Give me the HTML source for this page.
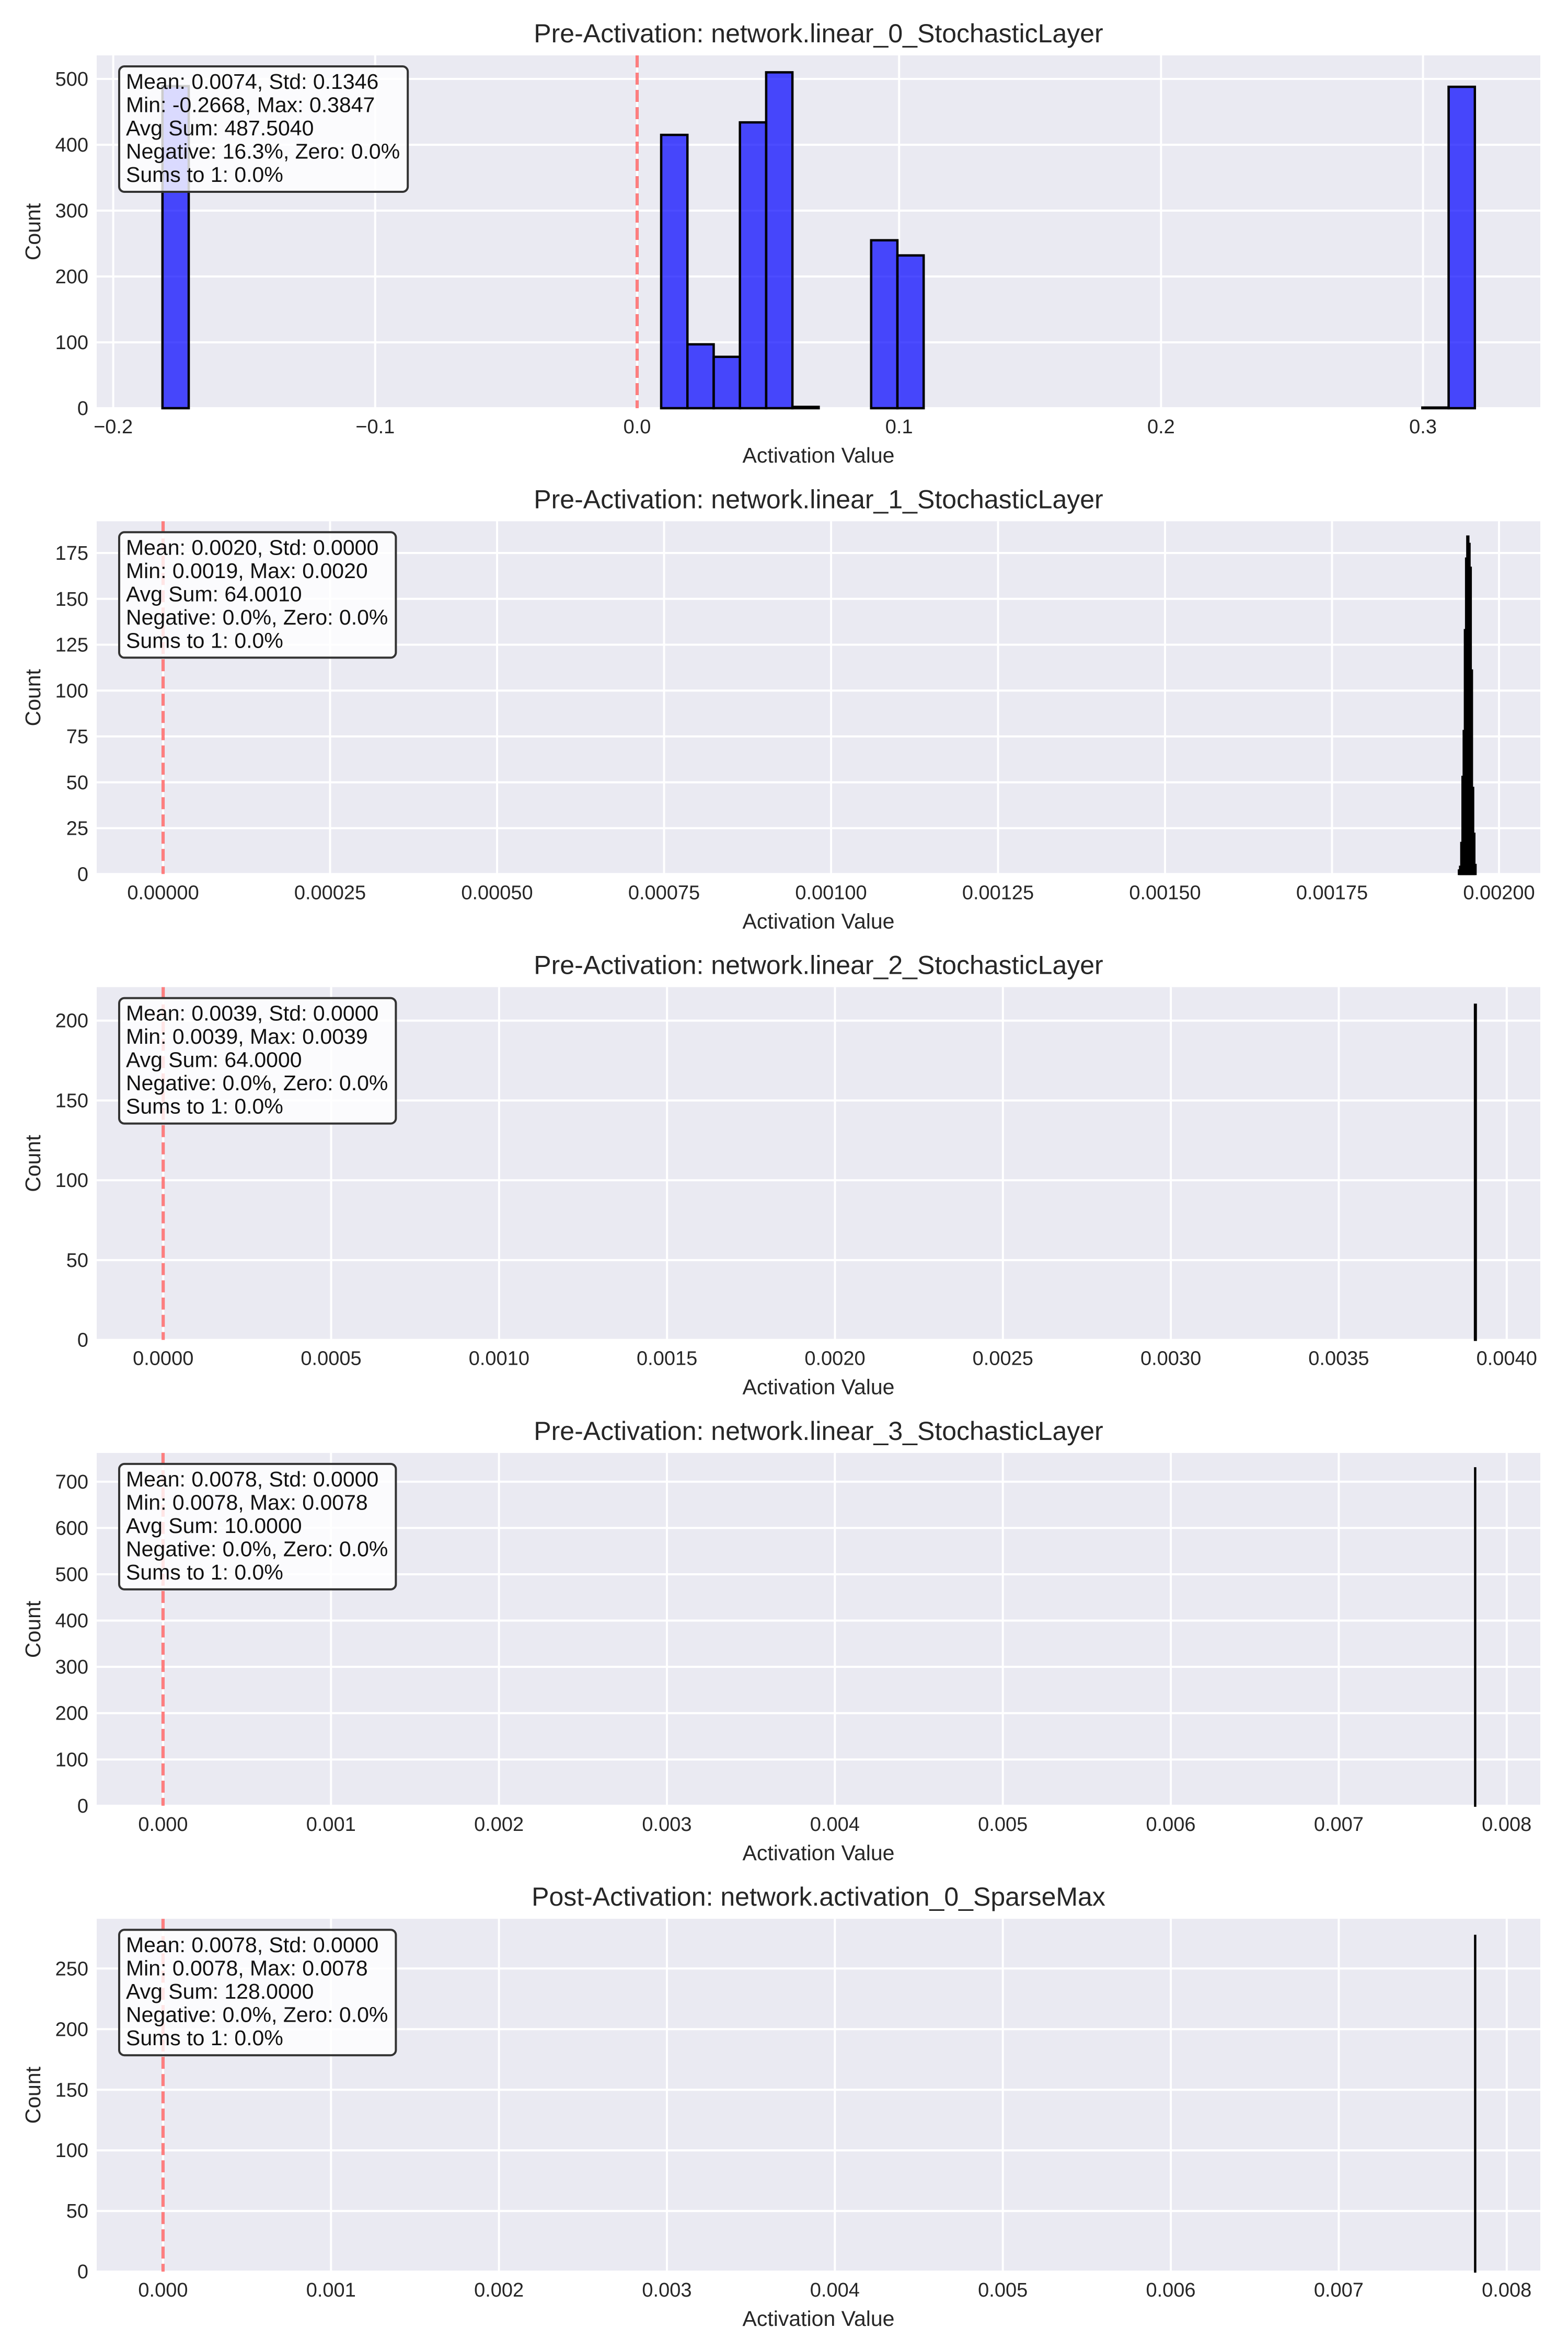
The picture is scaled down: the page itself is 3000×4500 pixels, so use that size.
<!DOCTYPE html>
<html>
<head>
<meta charset="utf-8">
<style>
html,body{margin:0;padding:0;background:#fff;}
svg{display:block;font-family:"Liberation Sans",Arial,sans-serif;}
</style>
</head>
<body>
<svg id="fig" width="3000" height="4500" viewBox="0 0 3000 4500" xmlns="http://www.w3.org/2000/svg"></svg>
<script>
// ---- data ----
const titles = [
  "Pre-Activation: network.linear_0_StochasticLayer",
  "Pre-Activation: network.linear_1_StochasticLayer",
  "Pre-Activation: network.linear_2_StochasticLayer",
  "Pre-Activation: network.linear_3_StochasticLayer",
  "Post-Activation: network.activation_0_SparseMax"
];
const statsText = [
  ["Mean: 0.0074, Std: 0.1346","Min: -0.2668, Max: 0.3847","Avg Sum: 487.5040","Negative: 16.3%, Zero: 0.0%","Sums to 1: 0.0%"],
  ["Mean: 0.0020, Std: 0.0000","Min: 0.0019, Max: 0.0020","Avg Sum: 64.0010","Negative: 0.0%, Zero: 0.0%","Sums to 1: 0.0%"],
  ["Mean: 0.0039, Std: 0.0000","Min: 0.0039, Max: 0.0039","Avg Sum: 64.0000","Negative: 0.0%, Zero: 0.0%","Sums to 1: 0.0%"],
  ["Mean: 0.0078, Std: 0.0000","Min: 0.0078, Max: 0.0078","Avg Sum: 10.0000","Negative: 0.0%, Zero: 0.0%","Sums to 1: 0.0%"],
  ["Mean: 0.0078, Std: 0.0000","Min: 0.0078, Max: 0.0078","Avg Sum: 128.0000","Negative: 0.0%, Zero: 0.0%","Sums to 1: 0.0%"]
];
// histogram bins: start value, bin width, counts
const binStart = [-0.1812, 0.0019398, 0.0039052, 0.0078115, 0.0078115];
const binWidth = [0.01002, 0.0000018, 0.000003, 0.0000015, 0.0000015];
const counts0 = [489,0,0,0,0,0,0,0,0,0,0,0,0,0,0,0,0,0,0,415,97,78,434,510,2,0,0,255,232,0,0,0,0,0,0,0,0,0,0,0,0,0,0,0,0,0,0,0,1,488];
const counts1 = [2,4,17,53,78,133,172,184,180,167,111,47,22,5];
const counts2 = [210];
const counts3 = [729];
const counts4 = [277];
const countsAll = [counts0, counts1, counts2, counts3, counts4];
// axis domains
const xDomains = [[-0.20631,0.34478],[-0.0000994,0.0020618],[-0.000198,0.0041],[-0.000395,0.0082],[-0.000395,0.0082]];
const yMax = [535.7, 192.3, 221, 762, 291];
const xTicks = [
  [-0.2,-0.1,0.0,0.1,0.2,0.3],
  [0,0.00025,0.0005,0.00075,0.001,0.00125,0.0015,0.00175,0.002],
  [0,0.0005,0.001,0.0015,0.002,0.0025,0.003,0.0035,0.004],
  [0,0.001,0.002,0.003,0.004,0.005,0.006,0.007,0.008],
  [0,0.001,0.002,0.003,0.004,0.005,0.006,0.007,0.008]
];
const xTickLabels = [
  ["\u22120.2","\u22120.1","0.0","0.1","0.2","0.3"],
  ["0.00000","0.00025","0.00050","0.00075","0.00100","0.00125","0.00150","0.00175","0.00200"],
  ["0.0000","0.0005","0.0010","0.0015","0.0020","0.0025","0.0030","0.0035","0.0040"],
  ["0.000","0.001","0.002","0.003","0.004","0.005","0.006","0.007","0.008"],
  ["0.000","0.001","0.002","0.003","0.004","0.005","0.006","0.007","0.008"]
];
const yTicks = [
  [0,100,200,300,400,500],
  [0,25,50,75,100,125,150,175],
  [0,50,100,150,200],
  [0,100,200,300,400,500,600,700],
  [0,50,100,150,200,250]
];

// ---- layout ----
const NS = "http://www.w3.org/2000/svg";
const svg = document.getElementById("fig");
const L = 185, R = 2947, H = 675, TOP0 = 106, STEP = 891.3;
function mk(tag, attrs, parent){
  const e = document.createElementNS(NS, tag);
  for (const k in attrs) e.setAttribute(k, attrs[k]);
  parent.appendChild(e);
  return e;
}
function measure(txt, size){
  const t = mk("text", {x:0,y:-100,"font-size":size}, svg);
  t.textContent = txt;
  const w = t.getComputedTextLength();
  svg.removeChild(t);
  return w;
}

for (let p = 0; p < 5; p++){
  const top = TOP0 + STEP*p, bot = top + H;
  const xd = xDomains[p];
  const xs = v => L + (v - xd[0]) / (xd[1] - xd[0]) * (R - L);
  const ys = c => bot - c / yMax[p] * H;

  const g = mk("g", {}, svg);
  
  

  const bg = mk("rect", {x:L, y:top, width:R-L, height:H, fill:"#eaeaf2"}, g);
  
  

  // grid
  xTicks[p].forEach(v => {
    const ln = mk("line", {x1:xs(v), x2:xs(v), y1:top, y2:bot, stroke:"#fff", "stroke-width":4}, g);
    
    
  });
  yTicks[p].forEach(v => {
    const ln = mk("line", {x1:L, x2:R, y1:ys(v), y2:ys(v), stroke:"#fff", "stroke-width":4}, g);
    
    
  });

  // bars
  const cs = countsAll[p];
  cs.forEach((c, i) => {
    const x0 = xs(binStart[p] + i*binWidth[p]);
    const x1 = xs(binStart[p] + (i+1)*binWidth[p]);
    const r = mk("rect", {x:x0, y:ys(c), width:Math.max(x1-x0,0.5), height:bot-ys(c),
      fill:"rgba(0,0,255,0.7)", stroke:"#000", "stroke-width": p===0 ? 4.5 : 4}, g);
    
    
  });

  // zero line
  const zl = mk("line", {x1:xs(0), x2:xs(0), y1:top, y2:bot, stroke:"rgba(255,0,0,0.5)", "stroke-width":6, "stroke-dasharray":"23 10"}, g);
  
  

  // tick labels
  xTicks[p].forEach((v, i) => {
    const t = mk("text", {x:xs(v), y:bot+48, "font-size":38, fill:"#262626", "text-anchor":"middle"}, g);
    t.textContent = xTickLabels[p][i];
    
    
  });
  yTicks[p].forEach(v => {
    const t = mk("text", {x:169, y:ys(v)+13, "font-size":38, fill:"#262626", "text-anchor":"end"}, g);
    t.textContent = String(v);
    
    
  });

  // title and axis labels
  const tt = mk("text", {x:(L+R)/2, y:top-25, "font-size":50, fill:"#262626", "text-anchor":"middle"}, g);
  tt.textContent = titles[p];
  
  

  const xl = mk("text", {x:(L+R)/2, y:bot+104, "font-size":41, fill:"#262626", "text-anchor":"middle"}, g);
  xl.textContent = "Activation Value";
  
  

  const yl = mk("text", {x:0, y:0, "font-size":41, fill:"#262626", "text-anchor":"middle", transform:`translate(77,${(top+bot)/2}) rotate(-90)`}, g);
  yl.textContent = "Count";
  
  

  // stats box
  const lines = statsText[p];
  let w = 0;
  lines.forEach(s => { w = Math.max(w, measure(s, 41)); });
  const bx = 228, by = top + 21, bw = w + 28, bh = 240;
  const box = mk("rect", {x:bx, y:by, width:bw, height:bh, rx:10, ry:10, fill:"rgba(255,255,255,0.8)", stroke:"#333", "stroke-width":4}, g);
  
  
  lines.forEach((s, i) => {
    const t = mk("text", {x:bx+13, y:by+43+i*44.5, "font-size":41, fill:"#111"}, g);
    t.textContent = s;
    
    
  });
}
</script>
</body>
</html>
